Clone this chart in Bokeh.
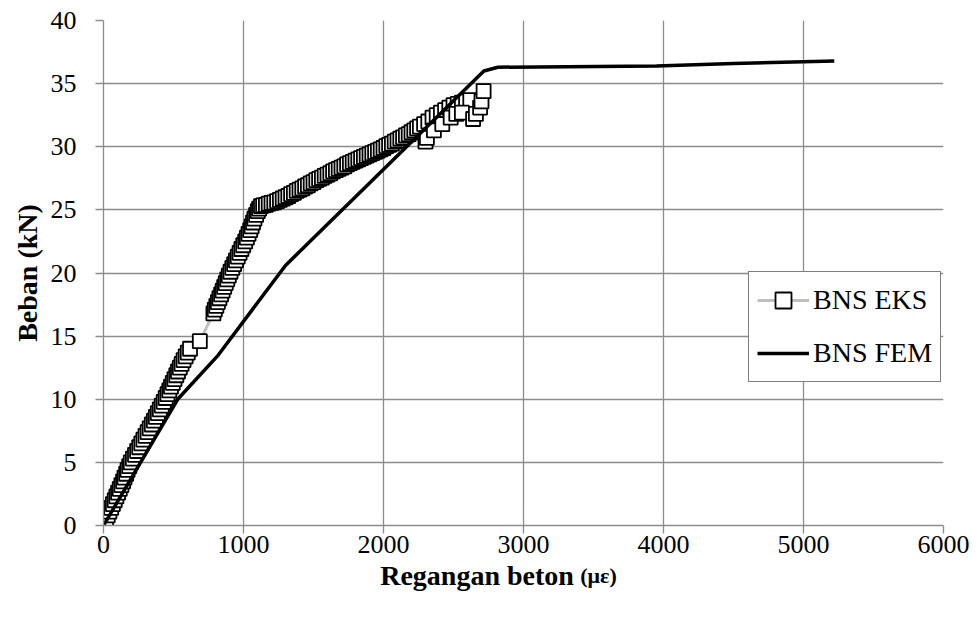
from bokeh.plotting import figure
from bokeh.models import Range1d, FixedTicker, Legend, LegendItem, Label
from bokeh.embed import file_html
from bokeh.resources import INLINE

# ---- data ----
x_ticks = [0, 1000, 2000, 3000, 4000, 5000, 6000]
y_ticks = [0, 5, 10, 15, 20, 25, 30, 35, 40]

eks_x = [0, 5, 18, 30, 42, 55, 67, 80, 92, 104, 116, 128, 140, 150, 162, 172, 184, 195,
         210, 225, 240, 255, 270, 285, 300, 315, 330, 345, 360, 374, 388, 402, 416, 430,
         444, 457, 470, 482, 495, 507, 520, 532, 545, 558, 572, 587, 602, 618,
         688,
         785, 795, 806, 817, 828, 840, 851, 862, 873, 884, 895, 907, 920, 933, 946, 959,
         972, 985, 998, 1012, 1024, 1036, 1048, 1058, 1068, 1078, 1090, 1102, 1112,
         1125, 1140, 1160, 1180, 1200, 1220, 1240, 1260, 1280, 1300, 1320, 1340, 1360,
         1380, 1400, 1420, 1440, 1460, 1480, 1500, 1520, 1540, 1560, 1580, 1600, 1620,
         1640, 1660, 1680, 1700, 1720, 1740, 1760, 1780, 1800, 1820, 1840, 1860, 1880,
         1900, 1920, 1940, 1960, 1980, 2000, 2020, 2040, 2060, 2080, 2100, 2120, 2140,
         2160, 2180, 2200, 2220, 2240, 2260,
         2290, 2320, 2350, 2380, 2410, 2440, 2470, 2500, 2530, 2560, 2590, 2620,
         2300, 2310, 2360, 2420, 2480, 2520, 2560, 2640, 2660, 2690, 2700, 2715]
eks_y = [0.0, 0.2, 0.5, 0.8, 1.1, 1.4, 1.7, 2.0, 2.3, 2.6, 2.9, 3.2, 3.5, 3.8, 4.1, 4.4, 4.7, 5.0,
         5.3, 5.6, 5.9, 6.2, 6.5, 6.8, 7.1, 7.4, 7.7, 8.0, 8.3, 8.6, 8.9, 9.2, 9.5, 9.8,
         10.1, 10.4, 10.7, 11.0, 11.3, 11.6, 11.9, 12.2, 12.5, 12.8, 13.1, 13.4, 13.7, 14.0,
         14.6,
         16.8, 17.1, 17.4, 17.7, 18.0, 18.3, 18.6, 18.9, 19.2, 19.5, 19.8, 20.1, 20.4, 20.7, 21.0, 21.3,
         21.6, 21.9, 22.2, 22.5, 22.8, 23.1, 23.4, 23.7, 24.0, 24.3, 24.6, 24.9, 25.1,
         25.3, 25.35, 25.4, 25.5, 25.55, 25.6, 25.7, 25.8, 25.9, 26.0, 26.1, 26.25, 26.35,
         26.5, 26.6, 26.7, 26.85, 26.95, 27.1, 27.2, 27.35, 27.45, 27.55, 27.7, 27.8, 27.9,
         28.05, 28.15, 28.25, 28.35, 28.45, 28.6, 28.7, 28.8, 28.9, 29.0, 29.1, 29.2, 29.3,
         29.4, 29.5, 29.6, 29.7, 29.8, 29.9, 30.05, 30.15, 30.25, 30.4, 30.5, 30.65, 30.75,
         30.9, 31.0, 31.15, 31.3, 31.45, 31.6,
         31.8, 32.0, 32.3, 32.5, 32.7, 32.9, 33.1, 33.3, 33.4, 33.5, 33.6, 33.7,
         30.4, 30.7, 31.3, 31.8, 32.3, 32.6, 32.7, 32.2, 32.6, 33.1, 33.6, 34.4]

fem_x = [0, 530, 820, 1300, 2717, 2817, 3950, 4500, 5220]
fem_y = [0.0, 10.0, 13.5, 20.6, 36.0, 36.3, 36.4, 36.6, 36.8]

FONT = "Liberation Serif"
GRID = "#8c8c8c"

p = figure(width=978, height=622, output_backend="svg", toolbar_location=None,
           x_range=Range1d(0, 6000), y_range=Range1d(0, 40),
           min_border_left=103, min_border_right=35, min_border_top=20, min_border_bottom=97)
p.outline_line_color = None
p.background_fill_color = "white"
p.border_fill_color = "white"

# grid
p.xgrid.ticker = FixedTicker(ticks=x_ticks)
p.ygrid.ticker = FixedTicker(ticks=y_ticks)
for g in (p.xgrid, p.ygrid):
    g.grid_line_color = GRID
    g.grid_line_width = 1.3

# axes
p.xaxis.ticker = FixedTicker(ticks=x_ticks)
p.yaxis.ticker = FixedTicker(ticks=y_ticks)
for ax in (p.xaxis, p.yaxis):
    ax.axis_line_color = GRID
    ax.axis_line_width = 1.3
    ax.major_tick_line_color = GRID
    ax.major_tick_line_width = 1.3
    ax.major_tick_out = 8
    ax.major_tick_in = 0
    ax.minor_tick_line_color = None
    ax.major_label_text_font = FONT
    ax.major_label_text_font_size = "26px"
    ax.major_label_text_color = "black"
    ax.axis_label_text_font = FONT
    ax.axis_label_text_font_style = "bold"
    ax.axis_label_text_font_size = "28px"
    ax.axis_label_text_color = "black"
p.yaxis.major_label_standoff = 19
p.yaxis.axis_label = "Beban (kN)"
p.yaxis.axis_label_standoff = 5
p.xaxis.major_label_standoff = 2

# series
eks_line = p.line(eks_x, eks_y, line_color="#bfbfbf", line_width=3)
eks_pts = p.scatter(eks_x, eks_y, marker="square", size=14, fill_color="white",
                    line_color="black", line_width=1.8)
fem_line = p.line(fem_x, fem_y, line_color="black", line_width=3.5)

legend = Legend(items=[LegendItem(label="BNS EKS", renderers=[eks_line, eks_pts]),
                       LegendItem(label="BNS FEM", renderers=[fem_line])],
                location=(645, 143), orientation="vertical")
legend.label_text_font = FONT
legend.label_text_font_size = "28px"
legend.label_text_color = "black"
legend.glyph_width = 52
legend.glyph_height = 40
legend.label_height = 40
legend.spacing = 13
legend.padding = 8
legend.margin = 0
legend.label_standoff = 4
legend.border_line_color = "black"
legend.border_line_width = 1.5
legend.background_fill_color = "white"
legend.background_fill_alpha = 1
p.add_layout(legend)

# x-axis title (two font sizes), placed in the panel below the axis
p.add_layout(Label(x=3360, y=0, y_offset=-50, text="Regangan beton", text_align="right",
                   text_baseline="alphabetic", text_font=FONT, text_font_style="bold",
                   text_font_size="28px", text_color="black"), "below")
p.add_layout(Label(x=3405, y=0, y_offset=-50, text="(με)", text_align="left",
                   text_baseline="alphabetic", text_font=FONT, text_font_style="bold",
                   text_font_size="22px", text_color="black"), "below")

open("out.html", "w").write(file_html(p, INLINE))
